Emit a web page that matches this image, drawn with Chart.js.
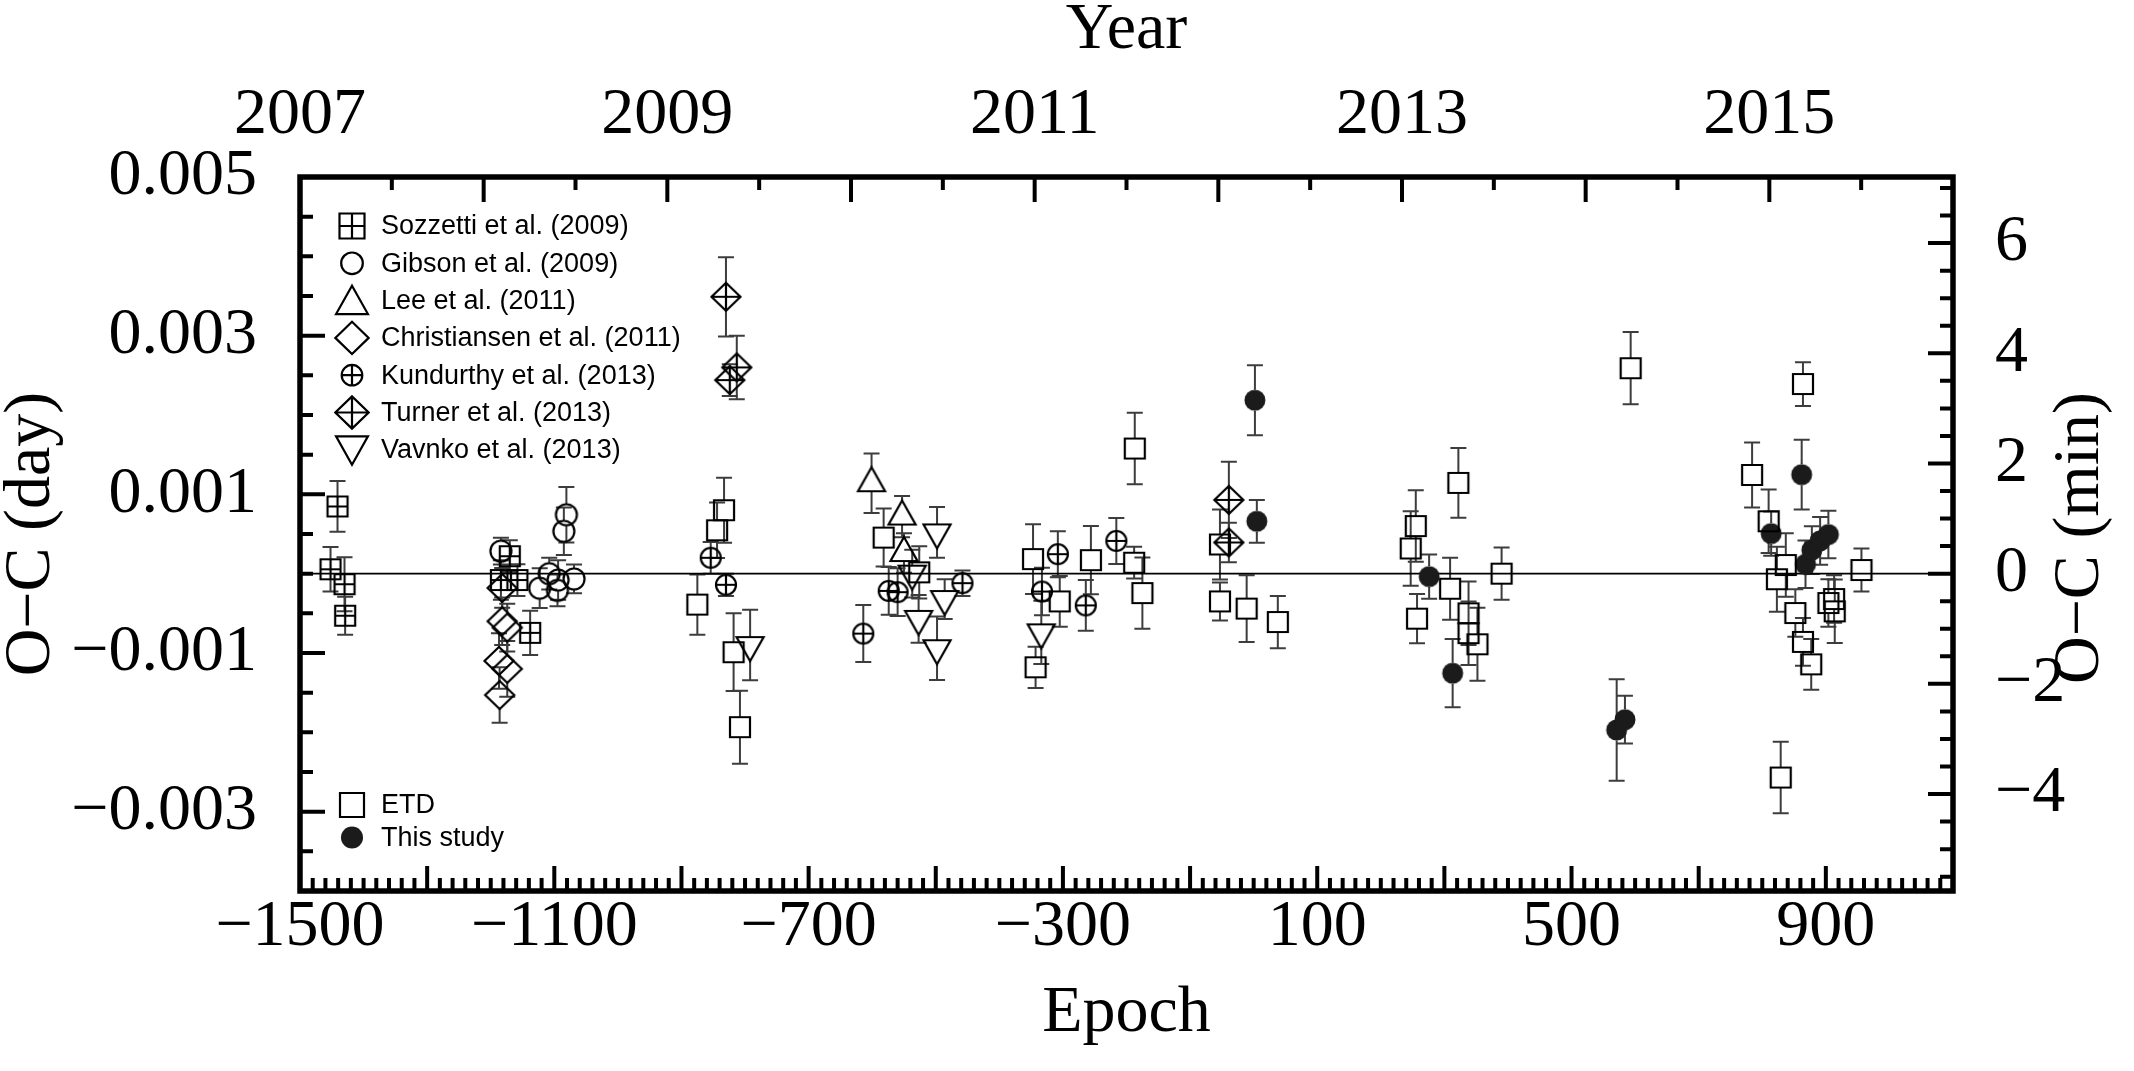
<!DOCTYPE html>
<html>
<head>
<meta charset="utf-8">
<title>O-C diagram</title>
<script src="https://cdn.jsdelivr.net/npm/chart.js@4.4.0/dist/chart.umd.min.js"></script>
<style>
  html, body { margin: 0; padding: 0; background: #fff; }
  canvas { display: block; }
</style>
</head>
<body>
<canvas id="ocChart" width="2134" height="1071"></canvas>
<script>
// each point: [epoch, O-C (day), error (day)]
const sozzetti = [
  [-1452, 0.000055, 0.00028], [-1441, 0.000847, 0.00032], [-1430, -0.000133, 0.00034],
  [-1429, -0.00053, 0.00024], [-1184, -0.00008, 0.00025], [-1170, 0.00022, 0.0002],
  [-1158, -0.00008, 0.0002], [-1138, -0.000746, 0.00028]
];
const gibson = [
  [-1184, 0.000284, 0.00017], [-1123, -0.000183, 0.00025], [-1108, 0.0, 0.0002],
  [-1094, -0.00008, 0.00025], [-1095, -0.00021, 0.0002], [-1085, 0.000534, 0.0003],
  [-1081, 0.000743, 0.00035], [-1069, -0.000066, 0.00018]
];
const lee = [
  [-601, 0.00114, 0.000375], [-553, 0.00072, 0.00026], [-550, 0.00026, 0.00025]
];
const christiansen = [
  [-1182, -0.00018, 0.00025], [-1182, -0.0006, 0.0003], [-1174, -0.00068, 0.0003],
  [-1187, -0.0011, 0.00035], [-1174, -0.0012, 0.00035], [-1186, -0.00153, 0.00035]
];
const kundurthy = [
  [-854, 0.0002, 0.0002], [-830, -0.00014, 0.00014], [-614, -0.000755, 0.00036],
  [-574, -0.000217, 0.0003], [-560, -0.000233, 0.0003], [-458, -0.00012, 0.00016],
  [-333, -0.000225, 0.0003], [-308, 0.000246, 0.00029], [-264, -0.0004, 0.00032],
  [-216, 0.000413, 0.00029]
];
const turner = [
  [-830, 0.00349, 0.0005], [-813, 0.0026, 0.0004], [-824, 0.00244, 0.0002],
  [-39, 0.00093, 0.00048], [-39, 0.000393, 0.00025]
];
const vavnko = [
  [-792, -0.0009, 0.000445], [-537, 0.0, 0.0003], [-527, -0.00057, 0.0003],
  [-498, 0.00052, 0.00032], [-486, -0.00032, 0.00025], [-498, -0.00094, 0.0004],
  [-334, -0.00074, 0.0004]
];
const etd = [
  [-875, -0.00039, 0.00038], [-844, 0.000547, 0.00035], [-833, 0.0008, 0.00041],
  [-818, -0.00099, 0.00049], [-808, -0.001935, 0.00046], [-582, 0.000455, 0.000365],
  [-526, 0.000017, 0.00033], [-347, 0.000184, 0.00044], [-343, -0.00118, 0.00026],
  [-305, -0.00035, 0.00032], [-256, 0.00017, 0.00043], [-188, 0.000138, 0.0002],
  [-187, 0.001577, 0.00045], [-175, -0.000245, 0.00045], [-53, 0.000368, 0.00044],
  [-53, -0.00035, 0.00024], [-11, -0.00044, 0.00042], [38, -0.00061, 0.00033],
  [247, 0.000318, 0.00047], [255, 0.0006, 0.00045], [257, -0.000567, 0.00031],
  [309, -0.00019, 0.00039], [322, 0.001144, 0.00044], [338, -0.0005, 0.0004],
  [338, -0.00075, 0.0004], [352, -0.00089, 0.00046], [390, 0.0, 0.00033],
  [593, 0.00259, 0.000455], [784, 0.001244, 0.00041], [810, 0.00066, 0.0004],
  [823, -0.00007, 0.00041], [837, 0.000109, 0.0004], [852, -0.000496, 0.0003],
  [864, 0.00239, 0.000275], [864, -0.00086, 0.0003], [877, -0.001143, 0.00032],
  [904, -0.00037, 0.0003], [913, -0.00032, 0.0003], [914, -0.000475, 0.0004],
  [956, 0.000046, 0.00027], [829, -0.00257, 0.00045]
];
const thisStudy = [
  [2, 0.002186, 0.00044], [5, 0.00066, 0.00027], [276, -0.000037, 0.00028],
  [313, -0.001255, 0.00043], [571, -0.00197, 0.00064], [584, -0.00184, 0.0003],
  [814, 0.000505, 0.00028], [862, 0.001248, 0.00044], [868, 0.000118, 0.0003],
  [878, 0.000297, 0.0003], [891, 0.000413, 0.0003], [904, 0.000493, 0.0003]
];

// axes
const epochRange = [-1500, 1100];
const yearRange = [2007, 2016];
const dayRange = [-0.004, 0.005];
const epochLabels = [-1500, -1100, -700, -300, 100, 500, 900];
const yearLabels = [2007, 2009, 2011, 2013, 2015];
const dayLabels = [-0.003, -0.001, 0.001, 0.003, 0.005];
const minLabels = [-4, -2, 0, 2, 4, 6];
const MIN_PER_DAY = 1440;

const SERIF = "'Liberation Serif', 'Times New Roman', serif";
const SANS = "'Liberation Sans', Arial, sans-serif";

// name, data, marker, legend group
const series = [
  ['ETD', etd, 'square', 'bottom'],
  ['Sozzetti et al. (2009)', sozzetti, 'squareCross', 'top'],
  ['Gibson et al. (2009)', gibson, 'circle', 'top'],
  ['Lee et al. (2011)', lee, 'triUp', 'top'],
  ['Christiansen et al. (2011)', christiansen, 'diamond', 'top'],
  ['Kundurthy et al. (2013)', kundurthy, 'circleCross', 'top'],
  ['Turner et al. (2013)', turner, 'diamondCross', 'top'],
  ['Vavnko et al. (2013)', vavnko, 'triDown', 'top'],
  ['This study', thisStudy, 'dot', 'bottom']
];

// how far the marker reaches above / below its centre (error bar gap)
const markerReach = {
  square: [10, 10], squareCross: [10, 10], circle: [10.5, 10.5], circleCross: [10, 10],
  triUp: [16, 8], triDown: [8, 16], diamond: [14, 14], diamondCross: [14, 14], dot: [10.5, 10.5]
};

function drawShape(ctx, kind, x, y, k) {
  ctx.save();
  ctx.lineWidth = 2.2;
  ctx.strokeStyle = '#000';
  ctx.fillStyle = '#1b1b1b';
  ctx.beginPath();
  const plus = (hw, hh) => {
    ctx.moveTo(x - hw, y); ctx.lineTo(x + hw, y);
    ctx.moveTo(x, y - hh); ctx.lineTo(x, y + hh);
  };
  if (kind === 'square' || kind === 'squareCross') {
    const h = 10 * k;
    ctx.rect(x - h, y - h, 2 * h, 2 * h);
    if (kind === 'squareCross') plus(h, h);
  } else if (kind === 'circle' || kind === 'circleCross') {
    const r = (kind === 'circle' ? 10.5 : 10) * k;
    ctx.arc(x, y, r, 0, Math.PI * 2);
    if (kind === 'circleCross') plus(r, r);
  } else if (kind === 'dot') {
    ctx.arc(x, y, 10.5 * k, 0, Math.PI * 2);
    ctx.fill();
    ctx.restore();
    return;
  } else if (kind === 'triUp' || kind === 'triDown') {
    const w = 13.5 * k, h = 24 * k, s = kind === 'triUp' ? 1 : -1;
    ctx.moveTo(x, y - s * 2 * h / 3);
    ctx.lineTo(x + w, y + s * h / 3);
    ctx.lineTo(x - w, y + s * h / 3);
    ctx.closePath();
  } else {
    const w = 14.5 * k, h = 14 * k;
    ctx.moveTo(x, y - h); ctx.lineTo(x + w, y); ctx.lineTo(x, y + h); ctx.lineTo(x - w, y);
    ctx.closePath();
    if (kind === 'diamondCross') plus(w, h);
  }
  ctx.stroke();
  ctx.restore();
}

function makeMarker(kind) {
  const c = document.createElement('canvas');
  c.width = c.height = 44;
  drawShape(c.getContext('2d'), kind, 22, 22, 1);
  return c;
}

function fmt(v, digits) {
  const s = Math.abs(v).toFixed(digits);
  return (v < 0 ? '\u2212' : '') + s;
}

const errorBars = {
  id: 'errorBars',
  beforeDatasetsDraw(chart) {
    const { ctx, scales: { x, y } } = chart;
    ctx.save();
    ctx.strokeStyle = '#3d3d3d';
    ctx.lineWidth = 2;
    chart.data.datasets.forEach(ds => {
      const [up, down] = markerReach[ds.marker];
      ds.errors.forEach((err, i) => {
        const p = ds.data[i];
        const px = x.getPixelForValue(p.x);
        const py = y.getPixelForValue(p.y);
        const top = y.getPixelForValue(p.y + err);
        const bot = y.getPixelForValue(p.y - err);
        ctx.beginPath();
        if (top < py - up) { ctx.moveTo(px, top); ctx.lineTo(px, py - up); }
        if (bot > py + down) { ctx.moveTo(px, py + down); ctx.lineTo(px, bot); }
        ctx.moveTo(px - 8, top); ctx.lineTo(px + 8, top);
        ctx.moveTo(px - 8, bot); ctx.lineTo(px + 8, bot);
        ctx.stroke();
      });
    });
    // zero line
    const y0 = y.getPixelForValue(0);
    ctx.strokeStyle = '#000';
    ctx.lineWidth = 1.8;
    ctx.beginPath();
    ctx.moveTo(chart.chartArea.left, y0);
    ctx.lineTo(chart.chartArea.right, y0);
    ctx.stroke();
    ctx.restore();
  }
};

const frameAndTicks = {
  id: 'frameAndTicks',
  afterDraw(chart) {
    const { ctx, chartArea: a, scales } = chart;
    const LONG = 25, SHORT = 13;
    ctx.save();
    ctx.strokeStyle = '#000';
    ctx.lineWidth = 4;
    ctx.beginPath();
    for (let e = epochRange[0]; e <= epochRange[1]; e += 20) {
      const px = scales.x.getPixelForValue(e);
      const len = (e - epochRange[0]) % 200 === 0 ? LONG : SHORT;
      ctx.moveTo(px, a.bottom); ctx.lineTo(px, a.bottom - len);
    }
    for (let t = yearRange[0]; t <= yearRange[1]; t += 0.5) {
      const px = scales.x2.getPixelForValue(t);
      const len = Number.isInteger(t) ? LONG : SHORT;
      ctx.moveTo(px, a.top); ctx.lineTo(px, a.top + len);
    }
    for (let i = -8; i <= 10; i++) {
      const v = i * 0.0005;
      const py = scales.y.getPixelForValue(v);
      const len = dayLabels.some(d => Math.abs(d - v) < 1e-9) ? LONG : SHORT;
      ctx.moveTo(a.left, py); ctx.lineTo(a.left + len, py);
    }
    for (let m = -5.5; m <= 7; m += 0.5) {
      const py = scales.y2.getPixelForValue(m);
      const len = minLabels.includes(m) ? LONG : SHORT;
      ctx.moveTo(a.right, py); ctx.lineTo(a.right - len, py);
    }
    ctx.stroke();
    ctx.lineWidth = 5.5;
    ctx.strokeRect(a.left, a.top, a.right - a.left, a.bottom - a.top);

    // right axis title, reads bottom-to-top like the left one
    ctx.translate(2081, 538);
    ctx.rotate(-Math.PI / 2);
    ctx.fillStyle = '#000';
    ctx.font = '66px ' + SERIF;
    ctx.textAlign = 'center';
    ctx.textBaseline = 'middle';
    ctx.fillText('O\u2212C (min)', 0, 0);
    ctx.restore();
  }
};

const legendBox = {
  id: 'legendBox',
  afterDraw(chart) {
    const { ctx } = chart;
    const scaleOf = { square: 1.2, squareCross: 1.25, circle: 1.03, circleCross: 1.03,
      triUp: 1.18, triDown: 1.18, diamond: 1.15, diamondCross: 1.15, dot: 1.05 };
    ctx.save();
    ctx.font = '27px ' + SANS;
    ctx.fillStyle = '#000';
    ctx.textBaseline = 'middle';
    const topItems = series.filter(s => s[3] === 'top');
    const botItems = series.filter(s => s[3] === 'bottom');
    const draw = (item, yy) => {
      const kind = item[2];
      const off = kind === 'triUp' ? 4 : kind === 'triDown' ? -4 : 0;
      drawShape(ctx, kind, 352, yy + off, scaleOf[kind]);
      ctx.fillText(item[0], 381, yy + 1);
    };
    topItems.forEach((it, i) => draw(it, 226 + i * 37.3));
    botItems.forEach((it, i) => draw(it, 805 + i * 32.5));
    ctx.restore();
  }
};

const tickFont = { family: SERIF, size: 66, lineHeight: 1 };
const titleFont = { family: SERIF, size: 66, lineHeight: 0.9 };

new Chart(document.getElementById('ocChart'), {
  type: 'scatter',
  data: {
    datasets: series.map(([name, pts, marker]) => ({
      label: name,
      marker: marker,
      data: pts.map(p => ({ x: p[0], y: p[1] })),
      errors: pts.map(p => p[2]),
      pointStyle: makeMarker(marker),
      pointRadius: 10
    }))
  },
  options: {
    responsive: false,
    animation: false,
    events: [],
    layout: { padding: 0 },
    plugins: { legend: { display: false }, tooltip: { enabled: false } },
    scales: {
      x: {
        type: 'linear', position: 'bottom', min: epochRange[0], max: epochRange[1],
        grid: { display: false, drawTicks: false }, border: { display: false },
        afterBuildTicks: s => { s.ticks = epochLabels.map(v => ({ value: v })); },
        afterFit: s => { s.height = 180; },
        ticks: { autoSkip: false, maxRotation: 0, padding: 4, color: '#000', font: tickFont,
          callback: v => fmt(v, 0) },
        title: { display: true, text: 'Epoch', color: '#000', font: titleFont, padding: { top: 0, bottom: 28 } }
      },
      x2: {
        type: 'linear', position: 'top', min: yearRange[0], max: yearRange[1],
        grid: { display: false, drawTicks: false }, border: { display: false },
        afterBuildTicks: s => { s.ticks = yearLabels.map(v => ({ value: v })); },
        afterFit: s => { s.height = 177; },
        ticks: { autoSkip: false, maxRotation: 0, padding: 28, color: '#000', font: tickFont,
          callback: v => String(v) },
        title: { display: true, text: 'Year', color: '#000', font: titleFont, padding: { top: 1, bottom: 0 } }
      },
      y: {
        type: 'linear', position: 'left', min: dayRange[0], max: dayRange[1],
        grid: { display: false, drawTicks: false }, border: { display: false },
        afterBuildTicks: s => { s.ticks = dayLabels.map(v => ({ value: v })); },
        afterFit: s => { s.width = 300; },
        ticks: { autoSkip: false, padding: 43, color: '#000', font: tickFont,
          callback: v => fmt(v, 3) },
        title: { display: true, text: 'O\u2212C (day)', color: '#000', font: titleFont, padding: { top: 2, bottom: 0 } }
      },
      y2: {
        type: 'linear', position: 'right',
        min: dayRange[0] * MIN_PER_DAY, max: dayRange[1] * MIN_PER_DAY,
        grid: { display: false, drawTicks: false }, border: { display: false },
        afterBuildTicks: s => { s.ticks = minLabels.map(v => ({ value: v })); },
        afterFit: s => { s.width = 181; },
        ticks: { autoSkip: false, padding: 42, color: '#000', font: tickFont,
          callback: v => fmt(v, 0) }
      }
    }
  },
  plugins: [errorBars, frameAndTicks, legendBox]
});
</script>
</body>
</html>
